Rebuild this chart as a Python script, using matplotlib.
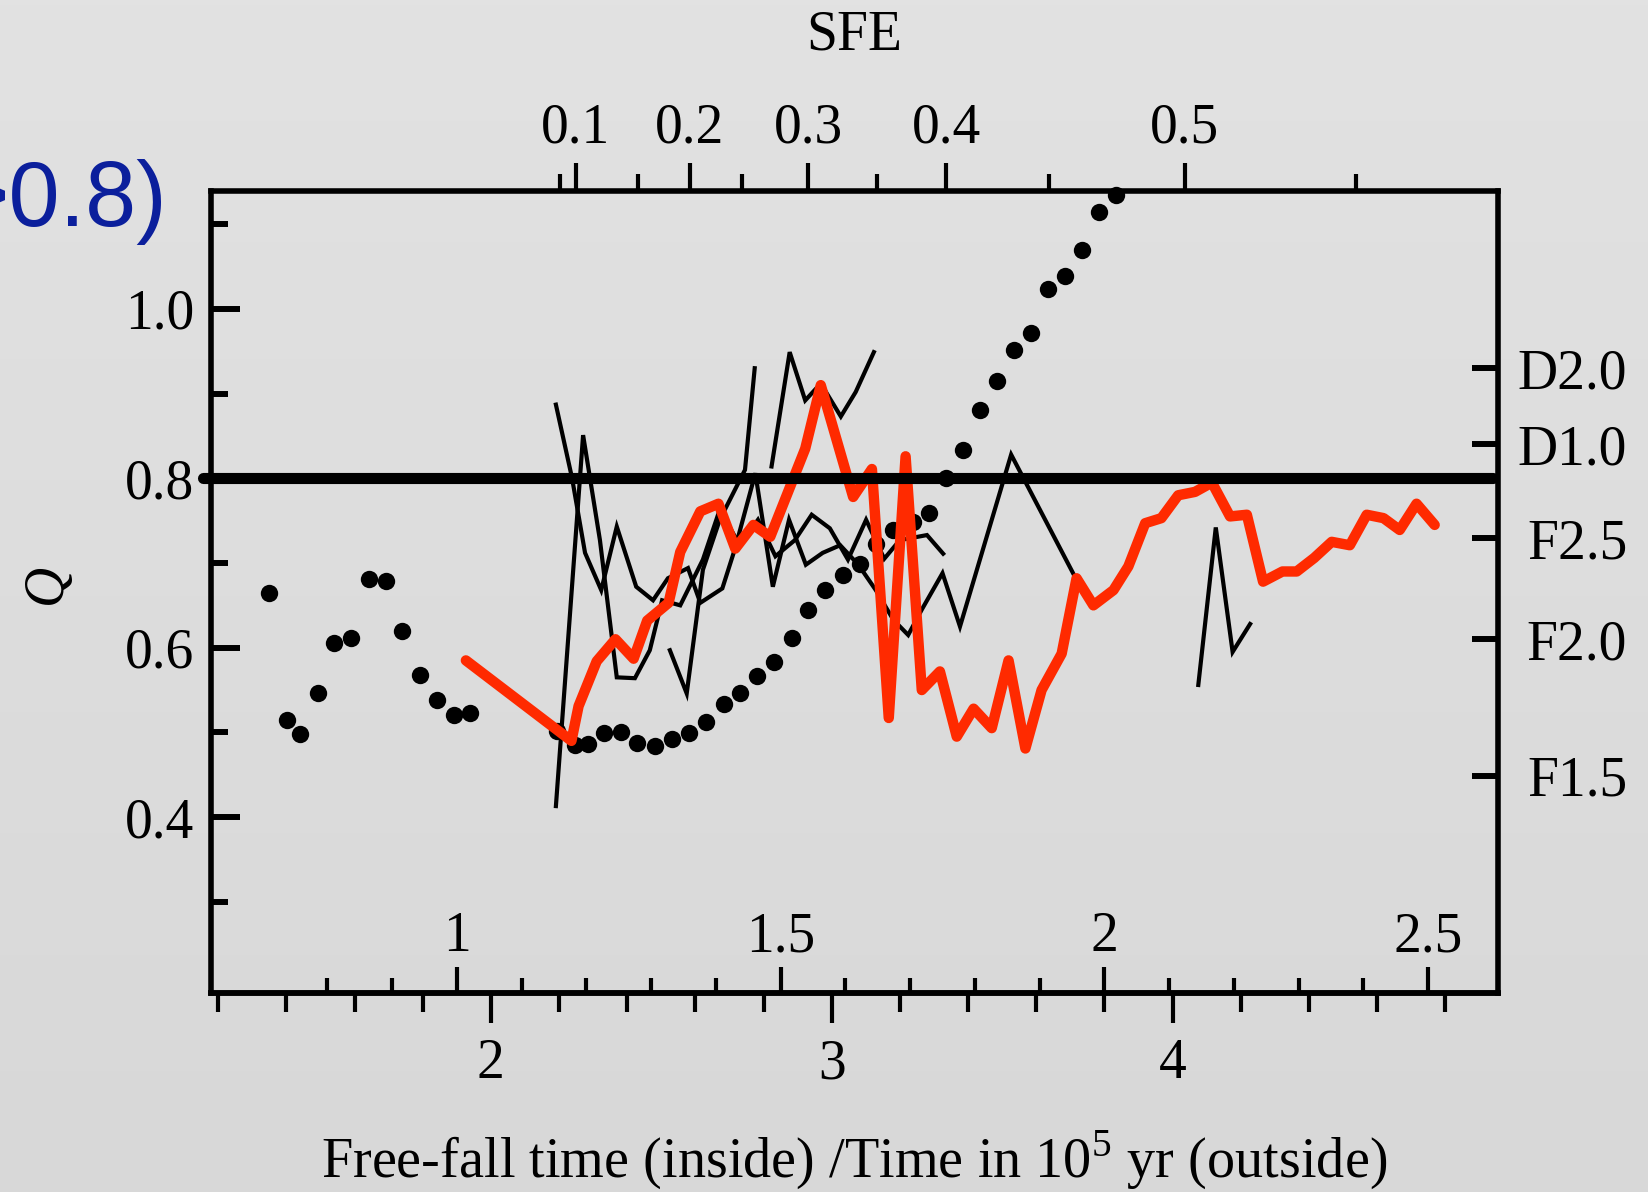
import numpy as np
import matplotlib
matplotlib.use('Agg')
import matplotlib.pyplot as plt
from matplotlib.colors import LinearSegmentedColormap

plt.rcParams['font.family'] = ['Liberation Serif', 'DejaVu Serif']
plt.rcParams['mathtext.fontset'] = 'custom'
plt.rcParams['mathtext.rm'] = 'Liberation Serif'

# ---------------- data (free-fall time t, Q) ----------------
dots_t = [0.710, 0.737, 0.758, 0.785, 0.811, 0.837, 0.864, 0.891, 0.916, 0.943,
          0.969, 0.996, 1.021, 1.155, 1.183, 1.202, 1.228, 1.254, 1.279, 1.306,
          1.333, 1.359, 1.385, 1.412, 1.437, 1.464, 1.490, 1.517, 1.543, 1.569,
          1.596, 1.622, 1.647, 1.674, 1.705, 1.729, 1.755, 1.781, 1.808, 1.834,
          1.860, 1.887, 1.913, 1.939, 1.966, 1.992, 2.018]
dots_q = [0.665, 0.515, 0.498, 0.547, 0.606, 0.612, 0.681, 0.679, 0.620, 0.568,
          0.538, 0.521, 0.523, 0.502, 0.485, 0.486, 0.499, 0.500, 0.488, 0.484,
          0.492, 0.499, 0.512, 0.534, 0.547, 0.567, 0.583, 0.612, 0.645, 0.668,
          0.686, 0.699, 0.723, 0.739, 0.749, 0.759, 0.800, 0.834, 0.881, 0.915,
          0.952, 0.972, 1.023, 1.039, 1.070, 1.115, 1.134]

red_t = [1.014, 1.177, 1.188, 1.216, 1.245, 1.273, 1.294, 1.327, 1.345, 1.376,
         1.404, 1.430, 1.458, 1.484, 1.538, 1.562, 1.612, 1.641, 1.667, 1.693,
         1.718, 1.746, 1.772, 1.798, 1.826, 1.852, 1.878, 1.903, 1.934, 1.957,
         1.983, 2.014, 2.037, 2.063, 2.088, 2.114, 2.140, 2.166, 2.194, 2.220,
         2.245, 2.275, 2.297, 2.324, 2.351, 2.379, 2.405, 2.431, 2.456, 2.482,
         2.510]
red_q = [0.585, 0.490, 0.531, 0.584, 0.610, 0.587, 0.632, 0.653, 0.713, 0.761,
         0.770, 0.717, 0.745, 0.731, 0.835, 0.910, 0.778, 0.811, 0.517, 0.826,
         0.550, 0.572, 0.495, 0.528, 0.505, 0.585, 0.481, 0.550, 0.593, 0.682,
         0.650, 0.668, 0.696, 0.747, 0.753, 0.780, 0.784, 0.795, 0.755, 0.757,
         0.678, 0.690, 0.690, 0.706, 0.725, 0.721, 0.757, 0.753, 0.739, 0.770,
         0.745]

run1_t = [1.153, 1.178, 1.198, 1.223, 1.247, 1.277, 1.303, 1.326, 1.357, 1.376,
          1.410, 1.430, 1.461, 1.488, 1.513, 1.539, 1.565, 1.592, 1.620, 1.647,
          1.674, 1.697, 1.718, 1.750, 1.777, 1.856, 1.955]
run1_q = [0.887, 0.800, 0.712, 0.668, 0.743, 0.672, 0.656, 0.682, 0.694, 0.653,
          0.670, 0.718, 0.806, 0.672, 0.751, 0.698, 0.712, 0.721, 0.698, 0.668,
          0.633, 0.615, 0.645, 0.688, 0.625, 0.828, 0.683]
run2_t = [1.153, 1.195, 1.221, 1.247, 1.275, 1.298, 1.317, 1.345, 1.380, 1.406,
          1.437, 1.465, 1.492, 1.522, 1.548, 1.576, 1.604, 1.632, 1.660, 1.684,
          1.726, 1.751]
run2_q = [0.413, 0.851, 0.727, 0.565, 0.564, 0.597, 0.656, 0.650, 0.704, 0.763,
          0.721, 0.751, 0.708, 0.727, 0.757, 0.741, 0.704, 0.751, 0.705, 0.727,
          0.733, 0.711]
run3_t = [1.329, 1.355, 1.380, 1.406, 1.445, 1.460]
run3_q = [0.597, 0.546, 0.692, 0.751, 0.810, 0.930]
run4_t = [1.486, 1.514, 1.538, 1.562, 1.593, 1.616, 1.644]
run4_q = [0.814, 0.949, 0.892, 0.912, 0.873, 0.902, 0.949]
run5_t = [2.145, 2.172, 2.198, 2.225]
run5_q = [0.556, 0.742, 0.595, 0.628]

q_threshold = 0.8

# axes scales / ticks
t_inner_major = [1, 1.5, 2, 2.5]
t_inner_labels = ['1', '1.5', '2', '2.5']
t_inner_minor = [0.8, 0.9, 1.1, 1.2, 1.3, 1.4, 1.6, 1.7, 1.8, 1.9, 2.1, 2.2, 2.3, 2.4]
yr_per_tff = 1.9  # 10^5 yr per free-fall time
yr_major = [2, 3, 4]
yr_minor = [1.2, 1.4, 1.6, 1.8, 2.2, 2.4, 2.6, 2.8, 3.2, 3.4, 3.6, 3.8, 4.2, 4.4, 4.6, 4.8]
sfe_major = ['0.1', '0.2', '0.3', '0.4', '0.5']
sfe_major_tff = [1.184, 1.360, 1.543, 1.756, 2.124]
sfe_minor_tff = [1.160, 1.280, 1.441, 1.649, 1.914, 2.388]
q_major = [0.4, 0.6, 0.8, 1.0]
q_labels = ['0.4', '0.6', '0.8', '1.0']
q_minor = [0.3, 0.5, 0.7, 0.9, 1.1]
model_q = [0.930, 0.840, 0.729, 0.610, 0.449]
model_labels = ['D2.0', 'D1.0', 'F2.5', 'F2.0', 'F1.5']

# ---------------- figure ----------------
W, H = 1649, 1192
fig = plt.figure(figsize=(W / 100, H / 100), dpi=100)

bg = fig.add_axes([0, 0, 1, 1], zorder=-10)
grad = np.linspace(0, 1, 256).reshape(-1, 1)
bg.imshow(grad, aspect='auto', extent=[0, 1, 0, 1],
          cmap=LinearSegmentedColormap.from_list('g', ['#e2e2e2', '#d8d8d8']))
bg.set_axis_off()

L, R, T, B = 211, 1498, 190.7, 993
ax = fig.add_axes([L / W, 1 - B / H, (R - L) / W, (B - T) / H])
ax.set_facecolor('none')
ax.set_xlim(0.6204, 2.6078)
ax.set_ylim(0.1923, 1.1396)

FS = 40
for s in ax.spines.values():
    s.set_linewidth(4)

# data
ax.plot(dots_t, dots_q, 'o', color='black', ms=12.5, mec='none', zorder=2, clip_on=False)
for tt, qq in [(run1_t, run1_q), (run2_t, run2_q), (run3_t, run3_q),
               (run4_t, run4_q), (run5_t, run5_q)]:
    ax.plot(tt, qq, color='black', lw=3.0, zorder=3, solid_joinstyle='miter')
ax.plot(red_t, red_q, color='#ff2a00', lw=7.5, zorder=4, solid_joinstyle='round',
        solid_capstyle='round')
ax.axhline(q_threshold, xmin=-0.006, xmax=0.996, color='black', lw=8,
           solid_capstyle='round', clip_on=False, zorder=5)

# inner x axis (free-fall time)
ax.set_xticks(t_inner_major)
ax.set_xticklabels(t_inner_labels)
ax.set_xticks(t_inner_minor, minor=True)
ax.tick_params(axis='x', which='major', direction='in', length=19, width=3,
               pad=-59, labelsize=FS)
ax.tick_params(axis='x', which='minor', direction='in', length=11, width=3)

# y axis
ax.set_yticks(q_major)
ax.set_yticklabels(q_labels)
ax.set_yticks(q_minor, minor=True)
ax.tick_params(axis='y', which='major', direction='in', length=21, width=4.3,
               pad=12, labelsize=FS)
ax.tick_params(axis='y', which='minor', direction='in', length=12, width=4.3)

# outer x axis (time in 1e5 yr)
sec = ax.secondary_xaxis('bottom', functions=(lambda t: t * yr_per_tff,
                                               lambda y: y / yr_per_tff))
sec.set_xticks(yr_major)
sec.set_xticklabels([str(v) for v in yr_major])
sec.set_xticks(yr_minor, minor=True)
sec.tick_params(axis='x', which='major', direction='out', length=21.5, width=3,
                pad=11, labelsize=FS)
sec.tick_params(axis='x', which='minor', direction='out', length=13.5, width=3)
sec.spines['bottom'].set_linewidth(4)

# top SFE axis
axt = ax.twiny()
axt.set_xlim(ax.get_xlim())
axt.set_xticks(sfe_major_tff)
axt.set_xticklabels(sfe_major)
axt.set_xticks(sfe_minor_tff, minor=True)
axt.tick_params(axis='x', which='major', direction='out', length=20, width=3,
                pad=6, labelsize=FS)
axt.tick_params(axis='x', which='minor', direction='out', length=12, width=3)
for s in axt.spines.values():
    s.set_visible(False)

# right model axis
axr = ax.twinx()
axr.set_ylim(ax.get_ylim())
axr.set_yticks(model_q)
axr.set_yticklabels(model_labels)
axr.tick_params(axis='y', which='major', direction='in', length=19, width=4.3,
                pad=93, labelsize=FS)
for lbl in axr.get_yticklabels():
    lbl.set_horizontalalignment('right')
for s in axr.spines.values():
    s.set_visible(False)

# labels
fig.text(854 / W, 1 - 35 / H, 'SFE', ha='center', va='center', fontsize=FS)
fig.text(854 / W, 1 - 1160 / H,
         r'Free-fall time (inside) /Time in 10$^5$ yr (outside)',
         ha='center', va='center', fontsize=40.5)
fig.text(47 / W, 1 - 584 / H, 'Q', ha='center', va='center', fontsize=FS,
         rotation=90, style='italic')
fig.text(167 / W, 1 - 202 / H, '>0.8)', ha='right', va='center', fontsize=66,
         color='#0b1f9c', family='Liberation Sans')

fig.savefig('out.png', dpi=100, facecolor=fig.get_facecolor())
